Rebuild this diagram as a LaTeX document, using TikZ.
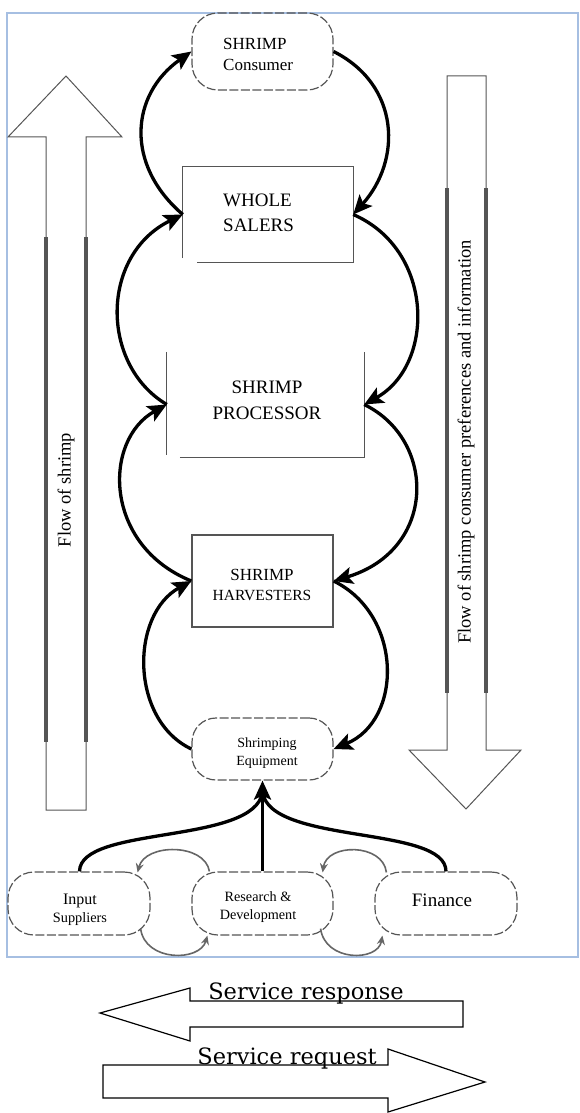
\documentclass[tikz,border=0pt]{standalone}
\usepackage{fontspec}
\setmainfont{Liberation Serif}
\newfontfamily\svcfont{DejaVu Serif}
\usetikzlibrary{arrows.meta,calc}
\definecolor{framecol}{HTML}{A6BFE2}
\definecolor{boxgray}{HTML}{555555}
\definecolor{cyclegray}{HTML}{666666}
\begin{document}
\begin{tikzpicture}[x=1pt,y=1pt,
  boxline/.style={draw=boxgray, line width=1.3pt},
  roundbox/.style={draw=boxgray, line width=1.2pt, dash pattern=on 9pt off 2.5pt, rounded corners=26pt, minimum width=141pt, inner sep=0pt},
  plainbox/.style={inner sep=0pt},
  lbl/.style={inner sep=0pt, align=center},
  flow/.style={line width=3.3pt, -{Stealth[length=19pt,width=17pt,inset=4pt]}},
  cyc/.style={draw=cyclegray, line width=1.6pt, -{Stealth[length=9pt,width=8pt]}},
  blockarrow/.style={draw=boxgray, line width=1pt},
  thickside/.style={draw=boxgray, line width=3.2pt},
  svcarrow/.style={draw=black, line width=1.2pt},
  svctext/.style={inner sep=0pt, font=\svcfont\fontsize{22.5}{26}\selectfont}
]
\useasboundingbox (0,0) rectangle (579,-1113);
% frame
\draw[framecol, line width=2pt] (7,-13) rectangle (578,-957);

% nodes
\node[roundbox, minimum height=77pt] (cons) at (262.5,-51.5) {};
\node[lbl, align=left, anchor=west, font=\fontsize{17}{21}\selectfont] (const) at (223,-54) {SHRIMP\\Consumer};

\node[plainbox, minimum width=170pt, minimum height=95pt] (ws) at (268,-214.5) {};
\draw[boxline] ($(ws.south west)+(0,4)$) -- (ws.north west) -- (ws.north east) -- (ws.south east) -- ($(ws.south west)+(14,0)$);
\node[lbl, align=left, anchor=west, font=\fontsize{19}{25}\selectfont] (wst) at (223,-213) {WHOLE\\SALERS};

\node[plainbox, minimum width=197pt, minimum height=105pt] (proc) at (265.5,-404.5) {};
\draw[boxline] (proc.north west) -- ($(proc.south west)+(0,2)$);
\draw[boxline] ($(proc.south west)+(13,0)$) -- (proc.south east) -- (proc.north east);
\node[lbl, font=\fontsize{19}{26}\selectfont] (proct) at (267,-400) {SHRIMP\\PROCESSOR};

\node[plainbox, boxline, minimum width=141pt, minimum height=92pt] (harv) at (262.5,-581) {};
\node[lbl, font=\fontsize{16}{20}\selectfont] (harvt) at (262,-585) {{\fontsize{17}{20}\selectfont SHRIMP}\\{\fontsize{15.5}{20}\selectfont HARVESTERS}};

\node[roundbox, minimum height=62pt, rounded corners=24pt] (equip) at (262.5,-749) {};
\node[lbl, font=\fontsize{14}{18}\selectfont] (equipt) at (267,-753.5) {Shrimping\\Equipment};

\node[roundbox, minimum width=142pt, minimum height=63pt, rounded corners=26pt] (inp) at (79,-903.5) {};
\node[lbl, font=\fontsize{15}{18}\selectfont] (inpt) at (80,-910) {{\fontsize{16}{18}\selectfont Input}\\{\fontsize{14.3}{18}\selectfont Suppliers}};

\node[roundbox, minimum width=141pt, minimum height=63pt, rounded corners=26pt] (rd) at (262.5,-903.5) {};
\node[lbl, font=\fontsize{14.2}{18}\selectfont] (rdt) at (258,-907.5) {Research \&\\Development};

\node[roundbox, minimum width=142pt, minimum height=63pt, rounded corners=26pt] (fin) at (446,-903.5) {};
\node[lbl, font=\fontsize{19}{22}\selectfont] (fint) at (442,-900.5) {Finance};

% main loops
\draw[flow] (ws.west) .. controls (125,-165) and (130,-95) .. (cons.west);
\draw[flow] (cons.east) .. controls (400,-85) and (402,-160) .. (ws.east);
\draw[flow] (proc.west) .. controls (100,-365) and (100,-255) .. (ws.west);
\draw[flow] (ws.east) .. controls (435,-250) and (435,-365) .. (proc.east);
\draw[flow] (harv.west) .. controls (103,-545) and (103,-440) .. (proc.west);
\draw[flow] (proc.east) .. controls (437,-440) and (437,-550) .. (harv.east);
\draw[flow] (equip.west) .. controls (130,-720) and (130,-615) .. (harv.west);
\draw[flow] (harv.east) .. controls (403,-615) and (403,-720) .. (equip.east);

% service inputs to equipment
\coordinate (join) at (262.5,-792);
\draw[line width=3.3pt] ($(inp.north)+(0.5,0)$) .. controls (80,-825) and (255,-845) .. (join);
\draw[line width=3.3pt] (fin.north) .. controls (446,-825) and (270,-845) .. (join);
\draw[flow] (rd.north) -- (equip.south);

% small cycles
\draw[cyc] ($(rd.north west)+(18,0)$) .. controls (205,-843) and (145,-843) .. ($(inp.north east)+(-13,-1)$);
\draw[cyc] ($(inp.south east)+(-10,7)$) .. controls (145,-962) and (200,-962) .. ($(rd.south west)+(16,0)$);
\draw[cyc] ($(fin.north west)+(12,-1)$) .. controls (383,-843) and (327,-843) .. ($(rd.north east)+(-11,-1)$);
\draw[cyc] ($(rd.south east)+(-13,7)$) .. controls (325,-962) and (378,-962) .. ($(fin.south west)+(8,0)$);

% flow of shrimp (up)
\draw[blockarrow] (46,-810) -- (46,-137) -- (8,-137) -- (66,-76) -- (122,-137) -- (86,-137) -- (86,-810) -- cycle;
\draw[thickside] (46,-237) -- (46,-742);
\draw[thickside] (86,-237) -- (86,-742);
\node[lbl, rotate=90, font=\fontsize{18.5}{20}\selectfont] (flowup) at (66,-490) {Flow of shrimp};

% flow of information (down)
\draw[blockarrow] (447,-76) -- (486,-76) -- (486,-750) -- (521,-750) -- (466,-809) -- (409,-750) -- (447,-750) -- cycle;
\draw[thickside] (447,-188) -- (447,-693);
\draw[thickside] (486,-188) -- (486,-693);
\node[lbl, rotate=90, font=\fontsize{18.5}{20}\selectfont] (flowdown) at (466,-442) {Flow of shrimp consumer preferences and information};

% service arrows
\draw[svcarrow] (100,-1013) -- (190,-988) -- (190,-1001) -- (463,-1001) -- (463,-1027) -- (190,-1027) -- (190,-1041) -- cycle;
\node[svctext, anchor=base] (resp) at (306,-999) {Service response};
\draw[svcarrow] (103,-1065) -- (388,-1065) -- (388,-1049) -- (485,-1082) -- (388,-1112) -- (388,-1098) -- (103,-1098) -- cycle;
\node[svctext, anchor=base] (req) at (287,-1064) {Service request};
\end{tikzpicture}
\end{document}
